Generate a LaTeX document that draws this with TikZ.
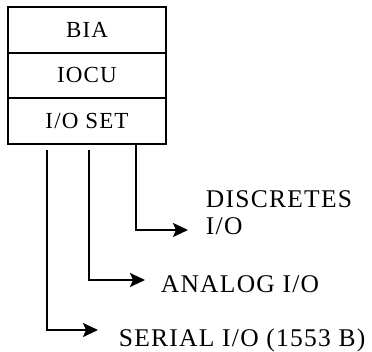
\documentclass[tikz,border=0pt]{standalone}
\usepackage{fontspec}
\setmainfont{Liberation Serif}
\newfontfamily\spacedfont[LetterSpace=5]{Liberation Serif}
\usetikzlibrary{arrows.meta}

\begin{document}
\begin{tikzpicture}[x=1pt,y=1pt,line width=1.8pt,
  cell/.style={draw,minimum width=158pt,minimum height=45.5pt,inner sep=0pt,
    font=\spacedfont\fontsize{23}{26}\selectfont},
  lbl/.style={anchor=base west,inner sep=0pt,align=left,
    font=\spacedfont\fontsize{25.5}{27}\selectfont},
  feed/.style={-{Stealth[length=15pt,width=14pt,inset=3pt]}}]

  \useasboundingbox (0,0) rectangle (372,-352);

  \draw (87,-30) node[cell] (bia) {BIA};
\draw (87,-75.5) node[cell] (iocu) {IOCU};
\draw (87,-121) node[cell] (ioset) {I/O SET};

  \coordinate (s0) at (47,-150);
  \coordinate (a0) at (89,-150);
  \coordinate (d0) at (136,-144);

  \draw (205,-235) node[lbl] (disc) {DISCRETES\\I/O};
  \draw (160,-293) node[lbl] (analog) {ANALOG I/O};
  \draw (118,-347) node[lbl] (serial) {SERIAL I/O (1553 B)};

  \draw[feed,shorten >=17pt] (d0) |- ([yshift=5pt]disc.base west);
  \draw[feed,shorten >=15pt] (a0) |- ([yshift=13pt]analog.base west);
  \draw[feed,shorten >=20pt] (s0) |- ([yshift=17pt]serial.base west);

\end{tikzpicture}
\end{document}
